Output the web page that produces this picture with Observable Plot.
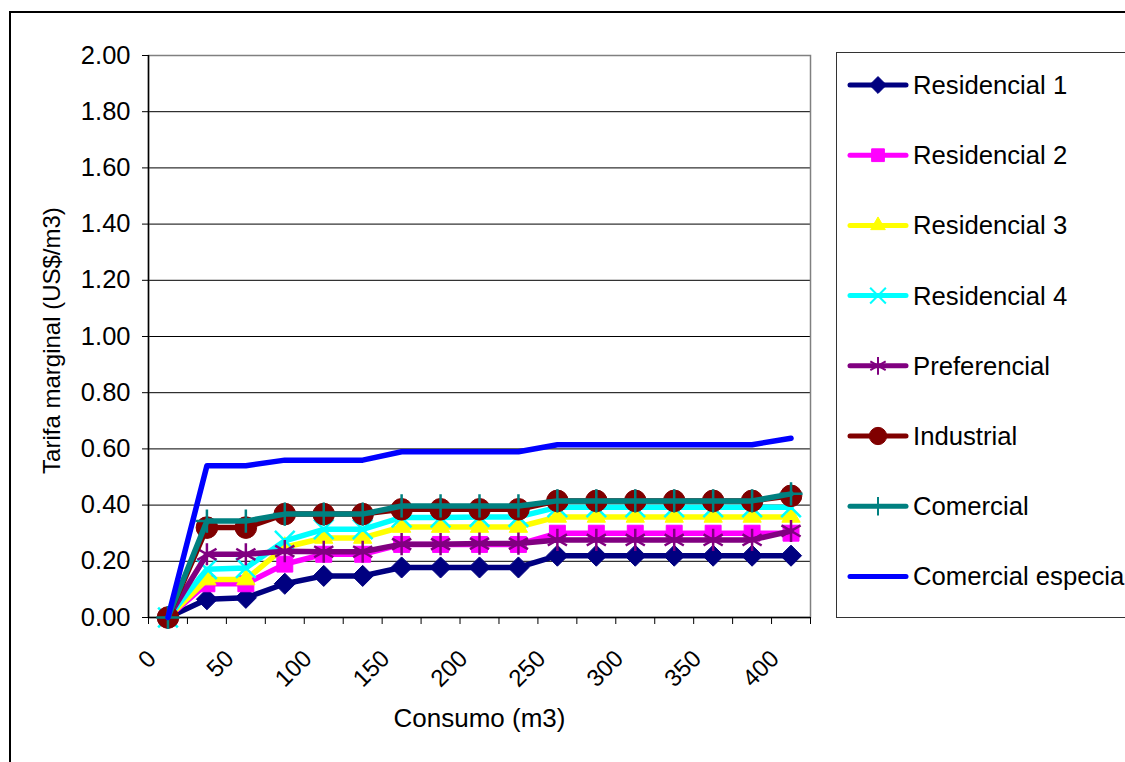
<!DOCTYPE html>
<html><head><meta charset="utf-8">
<script src="https://cdn.jsdelivr.net/npm/d3@7"></script>
<script src="https://cdn.jsdelivr.net/npm/@observablehq/plot@0.6"></script>
<style>
html,body{margin:0;padding:0;background:#fff;}
#wrap{position:relative;width:1125px;height:762px;overflow:hidden;font-family:"Liberation Sans",Arial,sans-serif;}
#frame{position:absolute;left:9px;top:11px;width:1300px;height:900px;border:2px solid #000;box-sizing:border-box;}
#chart{position:absolute;left:0;top:0;}
#legend{position:absolute;left:836px;top:52px;}
</style></head><body>
<div id="wrap"><div id="frame"></div><div id="chart"></div><svg id="legend" width="300" height="566"></svg></div>
<script>
// Categories (Consumo m3)
const consumo = [0,25,50,75,100,125,150,175,200,225,250,275,300,325,350,375,400];
const xTickLabels = [0,50,100,150,200,250,300,350,400];
const yTicks = [0,0.2,0.4,0.6,0.8,1.0,1.2,1.4,1.6,1.8,2.0];

// Series values (Tarifa marginal US$/m3)
const residencial1 = [0,0.065,0.07,0.12,0.148,0.148,0.178,0.178,0.178,0.178,0.22,0.22,0.22,0.22,0.22,0.22,0.22];
const residencial2 = [0,0.12,0.12,0.19,0.225,0.225,0.26,0.26,0.26,0.26,0.30,0.30,0.30,0.30,0.30,0.30,0.30];
const residencial3 = [0,0.135,0.135,0.25,0.283,0.283,0.322,0.322,0.322,0.322,0.358,0.358,0.358,0.358,0.358,0.358,0.358];
const residencial4 = [0,0.172,0.176,0.273,0.314,0.314,0.356,0.356,0.358,0.358,0.392,0.392,0.392,0.392,0.392,0.392,0.392];
const preferencial = [0,0.225,0.225,0.236,0.234,0.234,0.261,0.261,0.263,0.263,0.276,0.276,0.276,0.276,0.276,0.276,0.308];
const industrial   = [0,0.32,0.32,0.368,0.368,0.368,0.385,0.385,0.385,0.385,0.415,0.415,0.415,0.415,0.415,0.415,0.433];
const comercial    = [0,0.343,0.343,0.368,0.368,0.368,0.397,0.397,0.397,0.397,0.415,0.415,0.415,0.415,0.415,0.415,0.44];
const comercialEsp = [0,0.54,0.54,0.56,0.56,0.56,0.59,0.59,0.59,0.59,0.615,0.615,0.615,0.615,0.615,0.615,0.638];

const seriesNames = ["Residencial 1","Residencial 2","Residencial 3","Residencial 4","Preferencial","Industrial","Comercial","Comercial especial"];
const seriesValues = [residencial1,residencial2,residencial3,residencial4,preferencial,industrial,comercial,comercialEsp];
const seriesColors = ["#000080","#FF00FF","#FFFF00","#00FFFF","#800080","#800000","#008080","#0000FF"];
const seriesSymbols = ["diamond2","square","triangle","times","asterisk","circle","plus",null];
const symbolR = [9.5,9,6.8,9,10.5,10.8,7.5,0];
const filledSym = new Set(["diamond2","square","triangle","circle"]);

const data = seriesNames.flatMap((s,i)=>seriesValues[i].map((v,j)=>({series:s, consumo:consumo[j], tarifa:v})));

const step = consumo[1]-consumo[0];
const xMin = consumo[0]-step/2, xMax = consumo[consumo.length-1]+step/2;
const boundaries = consumo.map(c=>c-step/2).concat([xMax]);

const marks = [
  Plot.ruleY(yTicks.filter(d=>d>0 && d<2), {stroke:"#000", strokeWidth:1}),
  Plot.frame({stroke:"#808080", strokeWidth:1.5}),
  Plot.ruleX([xMin], {stroke:"#000", strokeWidth:1.5}),
  Plot.ruleY([0], {stroke:"#000", strokeWidth:1.5}),
  Plot.axisY({ticks:yTicks, tickFormat:d3.format(".2f"), tickSize:6, tickPadding:12, fontSize:25.5, label:null}),
  Plot.axisX({ticks:boundaries, tickSize:7, tickFormat:()=>"", label:null}),
  Plot.axisX({ticks:xTickLabels, tickSize:0, tickRotate:-45, tickPadding:37, dx:-16, fontSize:24, label:null}),
  Plot.text(["Tarifa marginal (US$/m3)"], {frameAnchor:"left", textAnchor:"middle", dx:-96, dy:4, rotate:-90, fontSize:24}),
  Plot.text(["Consumo (m3)"], {frameAnchor:"bottom", textAnchor:"middle", dy:109, fontSize:26})
];

seriesNames.forEach((s,i)=>{
  const rows = data.filter(d=>d.series===s);
  const c = seriesColors[i];
  marks.push(Plot.line(rows, {x:"consumo", y:"tarifa", stroke:c, strokeWidth:5.5, strokeLinejoin:"round"}));
  const sym = seriesSymbols[i];
  if (sym) {
    const filled = filledSym.has(sym);
    marks.push(Plot.dot(rows, {x:"consumo", y:"tarifa", symbol:()=>sym, r:symbolR[i],
      fill: filled ? c : "none", stroke:c, strokeWidth: filled ? 1 : 2.5}));
  }
});

const chart = Plot.plot({
  width:1125, height:762,
  marginLeft:148, marginRight:315, marginTop:55, marginBottom:145,
  style:{fontFamily:'"Liberation Sans", Arial, sans-serif', background:"transparent", overflow:"visible"},
  x:{type:"linear", domain:[xMin,xMax]},
  y:{domain:[0,2]},
  symbol:{type:"identity"},
  marks
});
document.getElementById("chart").appendChild(chart);

// Legend
const lg = d3.select("#legend");
lg.append("rect").attr("x",0.5).attr("y",0.5).attr("width",400).attr("height",565).attr("fill","#fff").attr("stroke","#333").attr("stroke-width",1);
const symMap = {diamond2:d3.symbolDiamond2, square:d3.symbolSquare, triangle:d3.symbolTriangle, times:d3.symbolTimes, asterisk:d3.symbolAsterisk, circle:d3.symbolCircle, plus:d3.symbolPlus};
seriesNames.forEach((s,i)=>{
  const cy = 33 + i*70.2;
  const g = lg.append("g").attr("transform",`translate(0,${cy})`);
  g.append("line").attr("x1",14).attr("x2",70).attr("y1",0).attr("y2",0).attr("stroke",seriesColors[i]).attr("stroke-width",5).attr("stroke-linecap","round");
  const sym = seriesSymbols[i];
  if (sym) {
    const r = symbolR[i]*0.8;
    const filled = filledSym.has(sym);
    g.append("path").attr("transform","translate(42,0)").attr("d", d3.symbol(symMap[sym], Math.PI*r*r)())
      .attr("fill", filled ? seriesColors[i] : "none").attr("stroke", seriesColors[i]).attr("stroke-width", filled?1:2);
  }
  g.append("text").attr("x",77).attr("y",0).attr("dy","0.35em").attr("font-size",25.7).attr("fill","#000")
    .attr("font-family",'"Liberation Sans", Arial, sans-serif').text(s);
});
</script>
</body></html>
